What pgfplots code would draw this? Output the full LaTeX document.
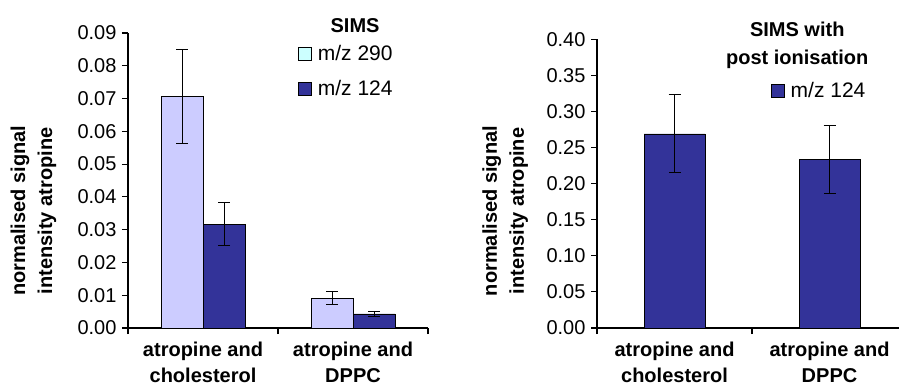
\documentclass[border=0pt]{standalone}
\usepackage{pgfplots}
\pgfplotsset{compat=1.18}
\usepackage{fontspec}
\setmainfont{Liberation Sans}
\definecolor{lightbar}{HTML}{CCCCFF}
\definecolor{darkbar}{HTML}{333399}
\definecolor{legcyan}{HTML}{CCFFFF}
\pgfplotsset{
  sqlegend/.style={legend image code/.code={\draw[##1,fill opacity=1] (0pt,-6.5pt) rectangle (13pt,6.5pt); \path (17pt,0pt);}},
  simsaxis/.style={
    scale only axis,
    clip=false,
    anchor=south west,
    axis lines*=left,
    axis line style={line width=1.3pt,-},
    tick align=outside,
    major tick length=6pt,
    tick style={line width=1.1pt,black},
    xmin=-0.5, xmax=1.5,
    ymin=0,
    xtick={-0.5,0.5,1.5},
    xticklabels={},
    extra x ticks={0,1},
    extra x tick labels={atropine and\\cholesterol,atropine and\\DPPC},
    extra x tick style={major tick length=0pt,
      tick label style={font=\bfseries\fontsize{20}{25.5}\selectfont, align=center, yshift=-13pt, inner sep=1pt}},
    scaled y ticks=false,
    /pgf/number format/assume math mode=true,
    yticklabel style={font=\fontsize{20}{20}\selectfont, xshift=-2pt,
      /pgf/number format/fixed, /pgf/number format/fixed zerofill, /pgf/number format/precision=2},
    ylabel style={font=\bfseries\fontsize{20}{27}\selectfont, align=center, anchor=center},
    error bars/y dir=both, error bars/y explicit,
    error bars/error bar style={line width=1pt,black},
    error bars/error mark options={rotate=90, mark size=6pt, line width=1pt, black},
  }
}
\begin{document}
\begin{tikzpicture}
\path[use as bounding box] (0pt,0pt) rectangle (899pt,391pt);
% Left panel: SIMS
\begin{axis}[simsaxis,
  at={(128pt,63pt)}, width=300pt, height=295pt,
  ymax=0.09,
  ytick={0,0.01,0.02,0.03,0.04,0.05,0.06,0.07,0.08,0.09},
  ylabel={normalised signal\\intensity atropine},
  ylabel style={at={(rel axis cs:-0.315,0.397)}},
  legend style={at={(rel axis cs:0.567,0.965)}, anchor=north west, draw=none, fill=none,
    font=\fontsize{21}{21}\selectfont, row sep=14pt, inner sep=0pt,
    cells={anchor=west}},
]
% bars of each category sit side by side: offset of 0.14 units = 21pt = half a bar
\addplot[ybar, bar width=42pt, bar shift=0pt, fill=lightbar, draw=black, line width=0.6pt, forget plot] coordinates {
  (-0.14,0.0706) +- (0,0.0143)
  (0.86,0.0091) +- (0,0.0019)
};
\addplot[ybar, bar width=42pt, bar shift=0pt, fill=darkbar, draw=black, line width=0.6pt, forget plot] coordinates {
  (0.14,0.0317) +- (0,0.0066)
  (1.14,0.0043) +- (0,0.0007)
};
\addlegendimage{sqlegend, fill=legcyan, draw=black, line width=0.6pt}
\addlegendentry{m/z 290}
\addlegendimage{sqlegend, fill=darkbar, draw=black, line width=0.6pt}
\addlegendentry{m/z 124}
\node[font=\bfseries\fontsize{20}{20}\selectfont] at (rel axis cs:0.757,1.024) {SIMS};
\end{axis}
% Right panel: SIMS with post ionisation
\begin{axis}[simsaxis,
  at={(597pt,63pt)}, width=310pt, height=288.7pt,
  ymax=0.40,
  ytick={0,0.05,0.10,0.15,0.20,0.25,0.30,0.35,0.40},
  ylabel={normalised signal\\intensity atropine},
  ylabel style={at={(rel axis cs:-0.296,0.405)}},
  legend style={at={(rel axis cs:0.561,0.858)}, anchor=north west, draw=none, fill=none,
    font=\fontsize{21}{21}\selectfont, inner sep=0pt,
    cells={anchor=west}},
]
\addplot[ybar, bar width=61pt, bar shift=0pt, fill=darkbar, draw=black, line width=0.6pt, sqlegend] coordinates {
  (0,0.269) +- (0,0.054)
  (1,0.234) +- (0,0.047)
};
\addlegendentry{m/z 124}
\node[font=\bfseries\fontsize{20}{28}\selectfont, align=center] at (rel axis cs:0.646,0.980) {SIMS with\\post ionisation};
\end{axis}
\end{tikzpicture}
\end{document}
